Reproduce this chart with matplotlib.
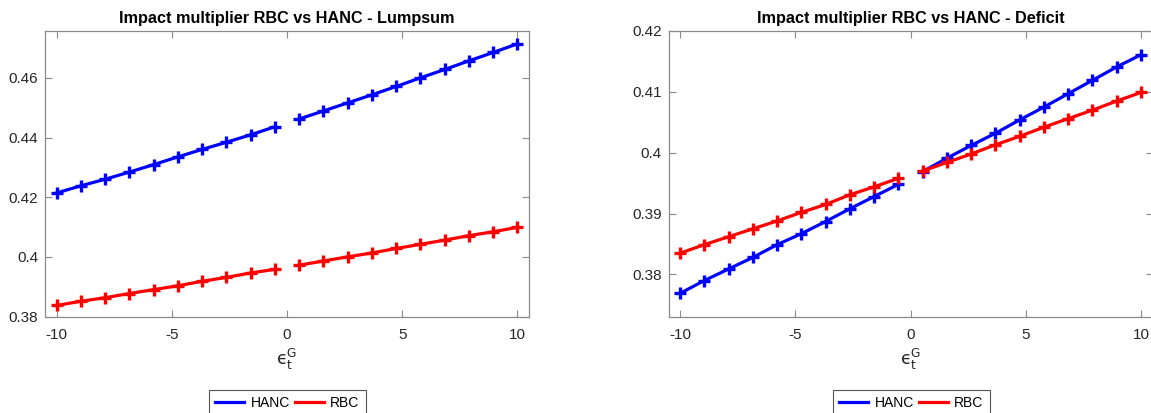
import numpy as np
import matplotlib
matplotlib.use("Agg")
from matplotlib import pyplot as plt
from matplotlib.lines import Line2D

plt.rcParams['font.family'] = ['Liberation Sans', 'DejaVu Sans']
plt.rcParams['mathtext.fontset'] = 'dejavusans'

# shock sizes (20 grid points, no point at zero)
eps = [-10.0, -8.947, -7.895, -6.842, -5.789, -4.737, -3.684, -2.632, -1.579, -0.526,
       0.526, 1.579, 2.632, 3.684, 4.737, 5.789, 6.842, 7.895, 8.947, 10.0]

# impact multipliers, lump-sum financing
hanc_lump = [0.4214, 0.4238, 0.4260, 0.4284, 0.4309, 0.4335, 0.4360, 0.4384, 0.4409, 0.4436,
             0.4462, 0.4489, 0.4516, 0.4543, 0.4571, 0.4600, 0.4628, 0.4657, 0.4685, 0.4714]
rbc_lump = [0.3837, 0.3851, 0.3863, 0.3877, 0.3890, 0.3903, 0.3918, 0.3931, 0.3946, 0.3958,
            0.3972, 0.3986, 0.4000, 0.4013, 0.4028, 0.4042, 0.4056, 0.4071, 0.4084, 0.4099]

# impact multipliers, deficit financing
hanc_def = [0.3769, 0.3790, 0.3809, 0.3828, 0.3849, 0.3867, 0.3887, 0.3908, 0.3928, 0.3948,
            0.3969, 0.3991, 0.4012, 0.4032, 0.4054, 0.4075, 0.4097, 0.4119, 0.4141, 0.4161]
rbc_def = [0.3835, 0.3849, 0.3862, 0.3875, 0.3888, 0.3902, 0.3915, 0.3931, 0.3944, 0.3958,
           0.3970, 0.3984, 0.3998, 0.4013, 0.4027, 0.4042, 0.4056, 0.4070, 0.4085, 0.4099]

xticks = [-10, -5, 0, 5, 10]
yticks_lump = [0.38, 0.40, 0.42, 0.44, 0.46]
ylabels_lump = ['0.38', '0.4', '0.42', '0.44', '0.46']
yticks_def = [0.38, 0.39, 0.40, 0.41, 0.42]
ylabels_def = ['0.38', '0.39', '0.4', '0.41', '0.42']

W, H = 1151, 413
fig = plt.figure(figsize=(W / 100, H / 100), dpi=100)

axcol = '#8a8a8a'
txtcol = '#262626'


def panel(rect, hanc, rbc, title, ylim, yt, ylab, legpos):
    ax = fig.add_axes(rect)
    x = np.array(eps)
    neg = x < 0
    pos = x > 0
    for y, c in ((hanc, 'blue'), (rbc, 'red')):
        y = np.array(y)
        for m in (neg, pos):
            ax.plot(x[m], y[m], color=c, lw=2.3, marker='+', ms=8.5, mew=2.4)
    ax.set_xlim(-10.5, 10.5)
    ax.set_ylim(*ylim)
    ax.set_xticks(xticks)
    ax.set_xticklabels([str(v) for v in xticks])
    ax.set_yticks(yt)
    ax.set_yticklabels(ylab)
    ax.tick_params(direction='in', top=True, right=True, length=5, width=0.8,
                   colors=axcol, labelcolor=txtcol, labelsize=11, pad=5)
    ax.tick_params(axis='x', pad=8)
    for s in ax.spines.values():
        s.set_color(axcol)
        s.set_linewidth(0.9)
    ax.set_title(title, fontsize=11.7, fontweight='bold', color='black', pad=6)
    ax.set_xlabel(r'$\mathrm{ϵ}_\mathrm{t}^\mathrm{G}$', fontsize=12.5, color=txtcol,
                  labelpad=4)
    handles = [Line2D([], [], color='blue', lw=2.3), Line2D([], [], color='red', lw=2.3)]
    leg = ax.legend(handles, ['HANC', 'RBC'], ncol=2, loc='upper left',
                    bbox_to_anchor=(legpos / W, 1 - 390 / H), bbox_transform=fig.transFigure,
                    borderaxespad=0, fontsize=10, frameon=True, fancybox=False,
                    framealpha=1, edgecolor='#555555', handlelength=2.1,
                    handletextpad=0.45, columnspacing=0.35, borderpad=0.45)
    leg.get_frame().set_linewidth(0.8)
    return ax


bottom = 1 - 316.5 / H
height = (316.5 - 31) / H
width = 484 / W
panel([45 / W, bottom, width, height], hanc_lump, rbc_lump,
      'Impact multiplier RBC vs HANC - Lumpsum', (0.38, 0.4757),
      yticks_lump, ylabels_lump, 209)
panel([668.5 / W, bottom, width, height], hanc_def, rbc_def,
      'Impact multiplier RBC vs HANC - Deficit', (0.3731, 0.42),
      yticks_def, ylabels_def, 833)

fig.savefig('out.png', dpi=100)
